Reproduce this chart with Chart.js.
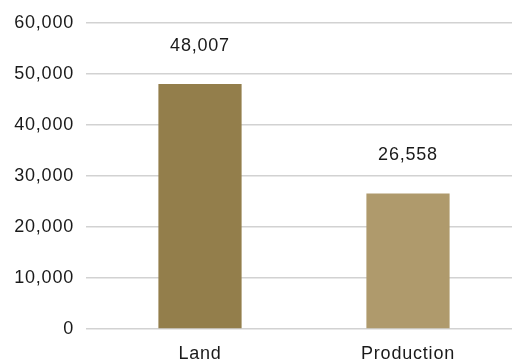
<!DOCTYPE html>
<html>
<head>
<meta charset="utf-8">
<script src="https://cdn.jsdelivr.net/npm/chart.js@4/dist/chart.umd.min.js"></script>
<style>
    html, body { margin: 0; padding: 0; background: #ffffff; }
    #wrap { width: 512px; height: 362px; }
</style>
</head>
<body>
<div id="wrap"><canvas id="bars"></canvas></div>
<script>
const categories = ["Land", "Production"];
const amounts = [48007, 26558];
const barColors = ["#937e4b", "#af9a6c"];
const yTicks = [0, 10000, 20000, 30000, 40000, 50000, 60000];

const textColor = "#1a1a1a";
const fontFamily = "'Liberation Sans', Arial, sans-serif";
const spacing = "0.8px";

function fmt(v) {
    return Number(v).toLocaleString("en-US");
}

// canvas resets its state on resize, so letter spacing is set again before each pass
const spacingPlugin = {
    id: "spacing",
    beforeUpdate(chart) { chart.ctx.letterSpacing = spacing; },
    beforeDraw(chart) { chart.ctx.letterSpacing = spacing; }
};

// value printed above each bar
const valueLabels = {
    id: "valueLabels",
    afterDatasetsDraw(chart) {
        let ctx = chart.ctx;
        let meta = chart.getDatasetMeta(0);
        ctx.save();
        ctx.letterSpacing = spacing;
        ctx.font = "18px " + fontFamily;
        ctx.fillStyle = textColor;
        ctx.textAlign = "center";
        ctx.textBaseline = "middle";
        meta.data.forEach(function (bar, i) {
            ctx.fillText(fmt(amounts[i]), bar.x, bar.y - 38);
        });
        ctx.restore();
    }
};

new Chart(document.getElementById("bars").getContext("2d"), {
    type: "bar",
    data: {
        labels: categories,
        datasets: [{
            data: amounts,
            backgroundColor: barColors,
            borderWidth: 0,
            barPercentage: 0.4,
            categoryPercentage: 1.0
        }]
    },
    options: {
        animation: false,
        responsive: true,
        maintainAspectRatio: false,
        layout: {
            padding: { top: 20, left: 12, right: 0, bottom: 0 }
        },
        scales: {
            x: {
                grid: { display: false },
                border: { display: false },
                ticks: {
                    color: textColor,
                    padding: 6,
                    font: { family: fontFamily, size: 18 }
                },
                afterFit(scale) { scale.height = 33; }
            },
            y: {
                min: 0,
                max: 60000,
                afterBuildTicks(scale) {
                    scale.ticks = yTicks.map(v => ({ value: v }));
                },
                border: { display: false },
                grid: {
                    color: "#d2d2d2",
                    lineWidth: 1.5,
                    drawTicks: true,
                    tickLength: 10,
                    tickColor: "#d2d2d2"
                },
                ticks: {
                    color: textColor,
                    padding: 12,
                    font: { family: fontFamily, size: 18 },
                    callback: function (value) { return fmt(value); }
                },
                afterFit(scale) { scale.width = 84; }
            }
        },
        plugins: {
            legend: { display: false },
            tooltip: { enabled: false }
        }
    },
    plugins: [spacingPlugin, valueLabels]
});
</script>
</body>
</html>
